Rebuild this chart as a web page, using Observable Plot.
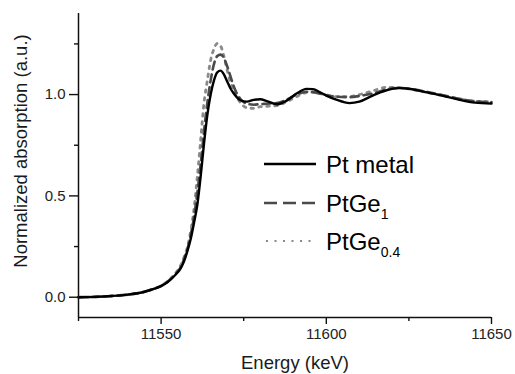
<!DOCTYPE html>
<html>
<head>
<meta charset="utf-8">
<script src="https://cdn.jsdelivr.net/npm/d3@7"></script>
<script src="https://cdn.jsdelivr.net/npm/@observablehq/plot@0.6"></script>
<style>
  html, body { margin: 0; padding: 0; background: #fff; }
  #chart { position: relative; width: 515px; height: 374px; font-family: "Liberation Sans", Arial, sans-serif; }
  #chart svg { position: absolute; left: 0; top: 0; }
</style>
</head>
<body>
<div id="chart"></div>
<script>
const energy = [11525, 11530, 11535, 11540, 11545, 11548, 11550, 11552, 11554, 11556,
  11557, 11558, 11559, 11560, 11561, 11562, 11563, 11564, 11565, 11566,
  11567, 11568, 11569, 11570, 11571, 11572, 11574, 11576, 11578, 11580,
  11582, 11585, 11588, 11591, 11594, 11596, 11598, 11600, 11603, 11607,
  11610, 11614, 11618, 11622, 11626, 11630, 11635, 11640, 11645, 11650];
const ptMetal = [0.000, 0.002, 0.006, 0.013, 0.027, 0.042, 0.055, 0.075, 0.105, 0.145,
  0.18, 0.23, 0.29, 0.37, 0.46, 0.60, 0.76, 0.90, 1.00, 1.07,
  1.11, 1.118, 1.10, 1.065, 1.03, 1.005, 0.972, 0.965, 0.974, 0.977,
  0.968, 0.952, 0.97, 1.005, 1.028, 1.027, 1.012, 0.995, 0.975, 0.958,
  0.965, 0.995, 1.02, 1.032, 1.026, 1.012, 0.995, 0.975, 0.96, 0.956];
const ptGe1 = [0.000, 0.002, 0.006, 0.013, 0.027, 0.043, 0.056, 0.077, 0.108, 0.15,
  0.19, 0.24, 0.31, 0.40, 0.52, 0.66, 0.82, 0.96, 1.07, 1.15,
  1.19, 1.197, 1.18, 1.14, 1.09, 1.04, 0.978, 0.955, 0.95, 0.953,
  0.955, 0.958, 0.975, 1.0, 1.014, 1.012, 1.005, 0.997, 0.99, 0.987,
  0.993, 1.005, 1.025, 1.033, 1.027, 1.015, 0.998, 0.98, 0.967, 0.963];
const ptGe04 = [0.000, 0.002, 0.006, 0.013, 0.027, 0.043, 0.057, 0.08, 0.112, 0.16,
  0.20, 0.25, 0.33, 0.44, 0.60, 0.78, 0.96, 1.07, 1.17, 1.225,
  1.252, 1.24, 1.19, 1.12, 1.06, 1.02, 0.96, 0.935, 0.932, 0.94,
  0.942, 0.945, 0.965, 0.99, 1.01, 1.012, 1.005, 0.998, 0.99, 0.99,
  1.0, 1.018, 1.035, 1.035, 1.025, 1.012, 0.995, 0.98, 0.967, 0.965];

const xMajor = [11550, 11600, 11650];
const xMinor = [11525, 11575, 11625];
const yMajor = [0.0, 0.5, 1.0];
const yMinor = [0.25, 0.75, 1.25];
const xTitle = "Energy (keV)";
const yTitle = "Normalized absorption (a.u.)";
const legendNames = ["Pt metal", "PtGe", "PtGe"];
const legendSubs = ["", "1", "0.4"];

const series = [
  {name: "Pt metal", values: ptMetal, stroke: "#000", dash: null, width: 2.4},
  {name: "PtGe1", values: ptGe1, stroke: "#4a4a4a", dash: "8,5", width: 2.6},
  {name: "PtGe0.4", values: ptGe04, stroke: "#8a8a8a", dash: "2.5,5.5", width: 2.8}
];
const rows = series.map(s => energy.map((e, i) => ({e, v: s.values[i]})));

const W = 515, H = 374;
const font = '"Liberation Sans", Arial, sans-serif';
const plot = Plot.plot({
  width: W, height: H,
  marginLeft: 78, marginRight: 24, marginTop: 13, marginBottom: 57,
  style: {fontFamily: font, background: "transparent"},
  x: {domain: [11525, 11650]},
  y: {domain: [-0.1, 1.4]},
  marks: [
    // draw dotted last? order: dotted, dashed, solid to mimic reference layering
    Plot.line(rows[2], {x: "e", y: "v", curve: "monotone-x", stroke: series[2].stroke, strokeWidth: series[2].width, strokeDasharray: series[2].dash, strokeLinecap: "round"}),
    Plot.line(rows[1], {x: "e", y: "v", curve: "monotone-x", stroke: series[1].stroke, strokeWidth: series[1].width, strokeDasharray: series[1].dash}),
    Plot.line(rows[0], {x: "e", y: "v", curve: "monotone-x", stroke: series[0].stroke, strokeWidth: series[0].width}),
    Plot.axisX({ticks: xMajor, tickSize: 7, tickPadding: 4, tickFormat: d => String(d), fontSize: 15, color: "#222", label: null, stroke: "#111", strokeWidth: 1.4}),
    Plot.axisX({ticks: xMinor, tickSize: 4, tickFormat: () => "", label: null, stroke: "#111", strokeWidth: 1.4}),
    Plot.axisY({ticks: yMajor, tickSize: 9, tickPadding: 4, tickFormat: d3.format(".1f"), fontSize: 15, color: "#222", label: null, stroke: "#111", strokeWidth: 1.4}),
    Plot.axisY({ticks: yMinor, tickSize: 4, tickFormat: () => "", label: null, stroke: "#111", strokeWidth: 1.4}),
    Plot.ruleX([11525], {stroke: "#111", strokeWidth: 1.5}),
    Plot.ruleY([-0.1], {stroke: "#111", strokeWidth: 1.5})
  ]
});
const chart = document.getElementById("chart");
chart.appendChild(plot);

// overlay for titles and legend
const ov = d3.select(chart).append("svg").attr("width", W).attr("height", H)
  .style("font-family", font).style("pointer-events", "none");

ov.append("text").attr("x", 295).attr("y", 369).attr("text-anchor", "middle")
  .attr("font-size", 18.5).attr("fill", "#1a1a1a").text(xTitle);
ov.append("text").attr("transform", "translate(27,151) rotate(-90)").attr("text-anchor", "middle")
  .attr("font-size", 18.5).attr("fill", "#1a1a1a").text(yTitle);

const legY = [164, 203, 241];
const legBase = [173, 211.5, 249.5];
series.forEach((s, i) => {
  const ln = ov.append("line").attr("x1", 264).attr("x2", 316).attr("y1", legY[i]).attr("y2", legY[i])
    .attr("stroke", s.stroke).attr("stroke-width", i === 0 ? 2.4 : 2.4);
  if (i === 1) ln.attr("stroke-dasharray", "13,6");
  if (i === 2) ln.attr("stroke-dasharray", "2,6.5").attr("stroke-width", 2).attr("x1", 266);
  const t = ov.append("text").attr("x", 326).attr("y", legBase[i]).attr("font-size", 24).attr("fill", "#000");
  t.append("tspan").text(legendNames[i]);
  if (legendSubs[i]) t.append("tspan").attr("font-size", 14).attr("dy", 7).text(legendSubs[i]);
});
</script>
</body>
</html>
